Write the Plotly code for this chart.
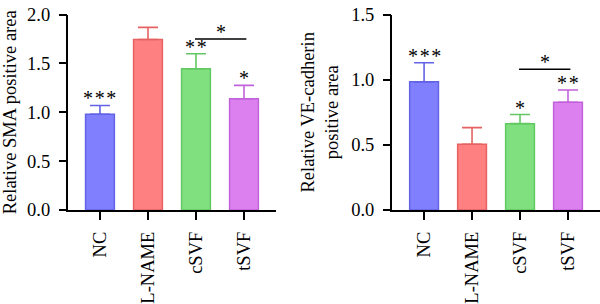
import plotly.graph_objects as go

categories = ["NC", "L-NAME", "cSVF", "tSVF"]
sma_mean = [0.98, 1.745, 1.446, 1.138]
sma_err = [0.09, 0.125, 0.154, 0.138]
sma_sig = ["***", "", "**", "*"]
ve_mean = [0.984, 0.504, 0.663, 0.827]
ve_err = [0.147, 0.128, 0.07, 0.094]
ve_sig = ["***", "", "*", "**"]
fills = ["#8080ff", "#ff8080", "#80e080", "#dc80f0"]
edges = ["#6262e6", "#e66262", "#62c862", "#c262da"]

FONT = "Liberation Serif, Times New Roman, serif"
FS = 18.5
AFS = 20
NB = "\u00a0"
HAIR = "\u200a"
fig = go.Figure()

def stars(s):
    return HAIR.join(s)

def add_panel(means, errs, sigs, xa, ya, bracket_y, bracket_idx):
    for i, c in enumerate(categories):
        fig.add_trace(go.Bar(
            x=[i], y=[means[i]], width=0.6,
            marker=dict(color=fills[i], line=dict(color=edges[i], width=1.5)),
            error_y=dict(type="data", array=[errs[i]], arrayminus=[0], symmetric=False,
                         color=edges[i], thickness=1.6, width=10),
            xaxis=xa, yaxis=ya, showlegend=False))
        if sigs[i]:
            fig.add_annotation(x=i, y=means[i] + errs[i], xref=xa, yref=ya,
                               text=stars(sigs[i]), showarrow=False, yanchor="bottom",
                               yshift=-6, font=dict(family=FONT, size=AFS, color="black"))
    a, b = bracket_idx
    fig.add_shape(type="line", x0=a - 0.02, x1=b + 0.05, y0=bracket_y, y1=bracket_y,
                  xref=xa, yref=ya, line=dict(color="black", width=1.5))
    fig.add_annotation(x=(a + b) / 2 + 0.02, y=bracket_y, xref=xa, yref=ya, text="*",
                       showarrow=False, yanchor="bottom", yshift=-6,
                       font=dict(family=FONT, size=AFS, color="black"))

add_panel(sma_mean, sma_err, sma_sig, "x", "y", 1.751, (2, 3))
add_panel(ve_mean, ve_err, ve_sig, "x2", "y2", 1.08, (2, 3))

xcommon = dict(tickmode="array", tickvals=list(range(4)),
               ticktext=[c + NB for c in categories],
               tickangle=-90, ticks="outside", ticklen=8, tickwidth=1.5, tickcolor="black",
               showline=True, linecolor="black", linewidth=1.5, showgrid=False,
               zeroline=False, range=[-0.66, 3.667],
               tickfont=dict(family=FONT, size=FS, color="black"))
ycommon = dict(ticks="outside", ticklen=8, tickwidth=1.5, tickcolor="black",
               showline=True, linecolor="black", linewidth=1.5, showgrid=False,
               zeroline=False, tickformat=".1f", dtick=0.5, ticksuffix=NB,
               ticklabeloverflow="allow",
               tickfont=dict(family=FONT, size=FS, color="black"))

fig.update_layout(
    width=600, height=304, margin=dict(l=0, r=0, t=0, b=0),
    font=dict(family=FONT, size=FS, color="black"),
    paper_bgcolor="white", plot_bgcolor="white", barmode="overlay",
    xaxis=dict(domain=[0.1138, 0.46], anchor="y", **xcommon),
    yaxis=dict(domain=[0.296, 0.9836], anchor="x", range=[0, 2.0],
               title=dict(text="Relative SMA positive area", standoff=6,
                          font=dict(family=FONT, size=FS, color="black")), **ycommon),
    xaxis2=dict(domain=[0.654, 1.0], anchor="y2", **xcommon),
    yaxis2=dict(domain=[0.296, 0.9836], anchor="x2", range=[0, 1.5],
                title=dict(text="Relative VE-cadherin<br>positive area", standoff=8,
                           font=dict(family=FONT, size=FS, color="black")), **ycommon),
)

fig.write_html("out.html")
